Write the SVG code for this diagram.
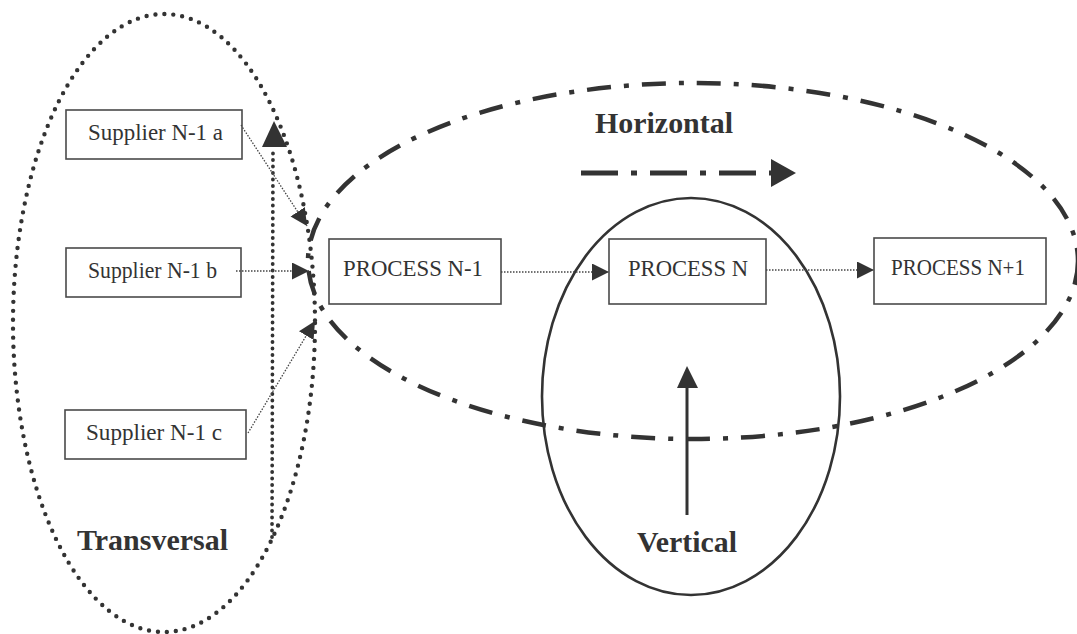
<svg xmlns="http://www.w3.org/2000/svg" width="1077" height="634" viewBox="0 0 1077 634">
<style>
.box{fill:#fff;stroke:#4a4a4a;stroke-width:1.6}
.lbl{font-family:"Liberation Serif","Times New Roman",serif;font-size:24px;fill:#333}
.big{font-family:"Liberation Serif","Times New Roman",serif;font-size:30px;font-weight:bold;fill:#333}
.conn{fill:none;stroke:#444;stroke-width:1.3;stroke-dasharray:1.5 1.5}
</style>
<defs>
<marker id="ah" markerUnits="userSpaceOnUse" markerWidth="18" markerHeight="18" refX="17" refY="8.5" orient="auto">
<path d="M0,0 L17,8.5 L0,17 Z" fill="#333"/>
</marker>
</defs>
<rect width="1077" height="634" fill="#fff"/>
<g id="transversal">
<ellipse cx="164" cy="323" rx="151" ry="309" fill="none" stroke="#333" stroke-width="4.4" stroke-dasharray="0 9" stroke-linecap="round"/>
<path d="M272,537 L273,148" fill="none" stroke="#333" stroke-width="3.8" stroke-dasharray="0 6.5" stroke-linecap="round"/>
<polygon points="274,121 262,147 287,147" fill="#333"/>
<text class="big" x="77" y="550" textLength="151" lengthAdjust="spacingAndGlyphs">Transversal</text>
</g>
<g id="horizontal">
<ellipse cx="693" cy="261" rx="385" ry="178" fill="none" stroke="#333" stroke-width="4.5" stroke-dasharray="24 13 5 13"/>
<path d="M581,173 L772,173" fill="none" stroke="#333" stroke-width="5" stroke-dasharray="37 13 6 13"/>
<polygon points="771,159 796,173 771,187" fill="#333"/>
<text class="big" x="595" y="133" textLength="138" lengthAdjust="spacingAndGlyphs">Horizontal</text>
</g>
<g id="vertical">
<ellipse cx="691" cy="396.5" rx="149" ry="198.5" fill="none" stroke="#333" stroke-width="2.6"/>
<path d="M687,515 L687,385" stroke="#333" stroke-width="3"/>
<polygon points="687,366 677,388 698,388" fill="#333"/>
<text class="big" x="637" y="552" textLength="100" lengthAdjust="spacingAndGlyphs">Vertical</text>
</g>
<g id="supplier-a">
<rect class="box" x="66" y="110" width="176" height="49"/>
<text class="lbl" x="88" y="140" textLength="135" lengthAdjust="spacingAndGlyphs">Supplier N-1 a</text>
</g>
<g id="supplier-b">
<rect class="box" x="66" y="248" width="175" height="49"/>
<text class="lbl" x="88" y="278" textLength="129" lengthAdjust="spacingAndGlyphs">Supplier N-1 b</text>
</g>
<g id="supplier-c">
<rect class="box" x="65" y="410" width="181" height="49"/>
<text class="lbl" x="86" y="440" textLength="136" lengthAdjust="spacingAndGlyphs">Supplier N-1 c</text>
</g>
<g id="process-n-1">
<rect class="box" x="329" y="239" width="172" height="65"/>
<text class="lbl" x="343" y="276" textLength="140" lengthAdjust="spacingAndGlyphs">PROCESS N-1</text>
</g>
<g id="process-n">
<rect class="box" x="609" y="239" width="157" height="65"/>
<text class="lbl" x="628" y="276" textLength="120" lengthAdjust="spacingAndGlyphs">PROCESS N</text>
</g>
<g id="process-n1">
<rect class="box" x="874" y="238" width="172" height="66"/>
<text class="lbl" x="891" y="275" textLength="134" lengthAdjust="spacingAndGlyphs">PROCESS N+1</text>
</g>
<g id="connectors">
<path class="conn" d="M241,125 L307,226" marker-end="url(#ah)"/>
<path class="conn" d="M236,271 L309,271" marker-end="url(#ah)"/>
<path class="conn" d="M248,433 L315,321" marker-end="url(#ah)"/>
<path class="conn" d="M501,272 L609,272" marker-end="url(#ah)"/>
<path class="conn" d="M766,270 L874,270" marker-end="url(#ah)"/>
</g>
</svg>
